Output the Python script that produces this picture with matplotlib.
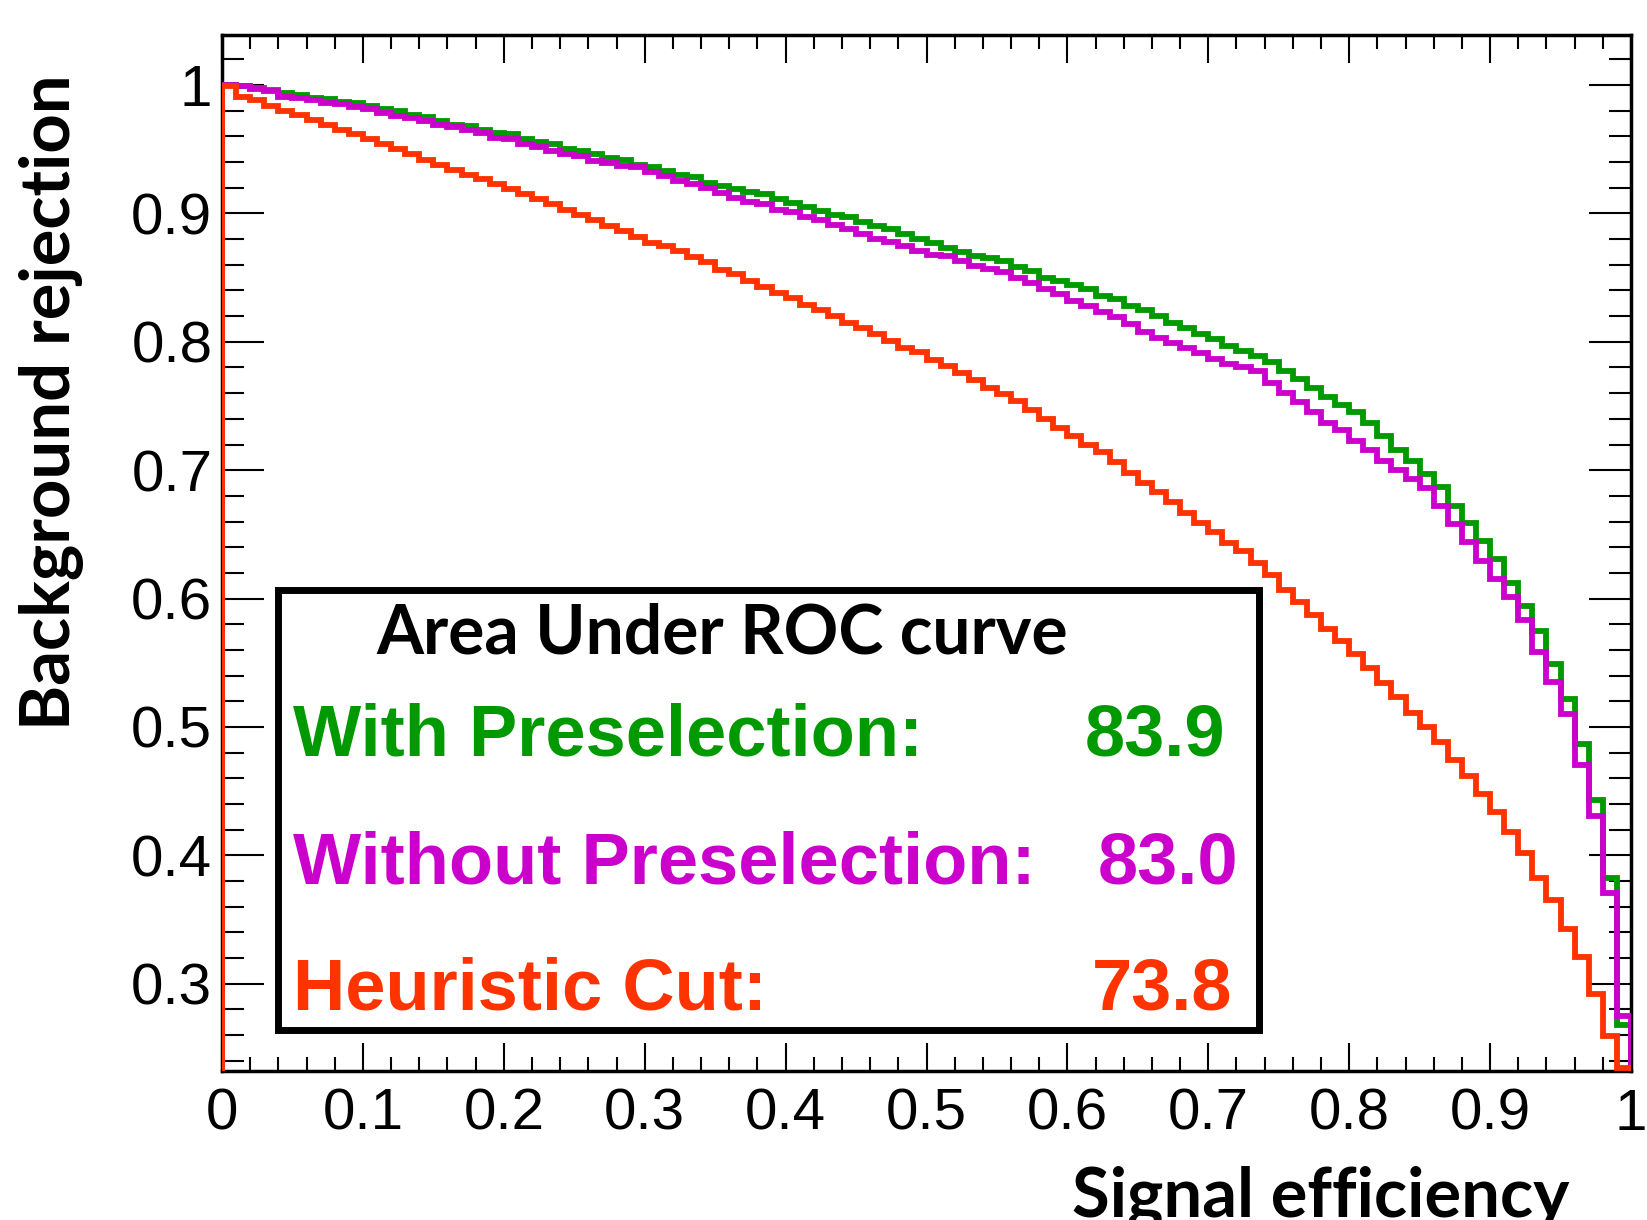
import numpy as np
import matplotlib.pyplot as plt
from matplotlib.patches import Rectangle
from matplotlib.ticker import MultipleLocator, FuncFormatter

plt.rcParams['font.family'] = ['Liberation Sans', 'DejaVu Sans']

# ROC curves, background rejection per signal-efficiency bin (100 bins of 0.01)
bin_edges = np.linspace(0.0, 1.0, 101)

rej_with_presel = [
    1.000, 0.999, 0.998, 0.996, 0.994, 0.992, 0.990, 0.989, 0.987, 0.986,
    0.984, 0.981, 0.980, 0.977, 0.975, 0.972, 0.969, 0.968, 0.965, 0.963,
    0.962, 0.958, 0.956, 0.954, 0.950, 0.949, 0.946, 0.943, 0.942, 0.938,
    0.936, 0.933, 0.930, 0.928, 0.924, 0.921, 0.919, 0.917, 0.915, 0.911,
    0.908, 0.905, 0.902, 0.899, 0.897, 0.893, 0.890, 0.888, 0.884, 0.880,
    0.877, 0.873, 0.870, 0.867, 0.865, 0.863, 0.858, 0.855, 0.850, 0.847,
    0.844, 0.841, 0.836, 0.833, 0.828, 0.825, 0.820, 0.815, 0.811, 0.806,
    0.802, 0.797, 0.793, 0.789, 0.784, 0.777, 0.771, 0.764, 0.757, 0.751,
    0.745, 0.737, 0.727, 0.716, 0.707, 0.697, 0.687, 0.672, 0.659, 0.645,
    0.631, 0.612, 0.594, 0.575, 0.549, 0.522, 0.487, 0.443, 0.382, 0.268,
]

rej_without_presel = [
    1.000, 0.999, 0.997, 0.995, 0.991, 0.990, 0.988, 0.986, 0.985, 0.983,
    0.981, 0.978, 0.976, 0.974, 0.972, 0.969, 0.967, 0.965, 0.963, 0.959,
    0.958, 0.954, 0.952, 0.949, 0.946, 0.945, 0.941, 0.939, 0.937, 0.936,
    0.932, 0.929, 0.925, 0.923, 0.920, 0.916, 0.912, 0.909, 0.907, 0.903,
    0.901, 0.897, 0.895, 0.891, 0.888, 0.884, 0.880, 0.878, 0.875, 0.871,
    0.868, 0.867, 0.863, 0.859, 0.857, 0.854, 0.850, 0.846, 0.841, 0.837,
    0.832, 0.828, 0.823, 0.819, 0.814, 0.808, 0.803, 0.799, 0.795, 0.791,
    0.787, 0.783, 0.780, 0.777, 0.768, 0.760, 0.753, 0.745, 0.737, 0.731,
    0.723, 0.716, 0.707, 0.700, 0.693, 0.686, 0.672, 0.658, 0.644, 0.629,
    0.615, 0.601, 0.583, 0.558, 0.535, 0.510, 0.470, 0.431, 0.371, 0.275,
]

rej_heuristic = [
    0.999, 0.991, 0.988, 0.984, 0.980, 0.977, 0.973, 0.969, 0.965, 0.962,
    0.958, 0.954, 0.950, 0.946, 0.942, 0.938, 0.934, 0.930, 0.927, 0.923,
    0.919, 0.915, 0.911, 0.907, 0.903, 0.899, 0.895, 0.890, 0.886, 0.882,
    0.877, 0.875, 0.871, 0.866, 0.862, 0.856, 0.853, 0.847, 0.843, 0.838,
    0.834, 0.829, 0.825, 0.820, 0.815, 0.811, 0.806, 0.801, 0.795, 0.792,
    0.786, 0.781, 0.776, 0.770, 0.764, 0.759, 0.754, 0.747, 0.740, 0.733,
    0.727, 0.720, 0.714, 0.706, 0.698, 0.690, 0.683, 0.675, 0.667, 0.659,
    0.652, 0.643, 0.637, 0.628, 0.618, 0.607, 0.597, 0.587, 0.576, 0.567,
    0.557, 0.546, 0.534, 0.523, 0.511, 0.500, 0.488, 0.474, 0.462, 0.448,
    0.434, 0.418, 0.402, 0.382, 0.365, 0.343, 0.321, 0.292, 0.259, 0.234,
]

auc_labels = ['With Preselection:', 'Without Preselection:', 'Heuristic Cut:']
auc_values = [83.9, 83.0, 73.8]

green = '#009900'
magenta = '#cc00cc'
red = '#ff3300'

W, H = 1647, 1220
def fx(px):
    return px / W
def fy(py):
    return 1 - py / H

fig = plt.figure(figsize=(W / 100, H / 100), dpi=100)
ax = fig.add_axes([fx(222), fy(1071), (1631 - 222) / W, (1071 - 35) / H])

# drawing order as in the original: green, magenta, red on top
ax.stairs(rej_with_presel, bin_edges, baseline=0, color=green, lw=4.2, zorder=3)
ax.stairs(rej_without_presel, bin_edges, baseline=0, color=magenta, lw=4.2, zorder=3)
ax.stairs(rej_heuristic, bin_edges, baseline=0, color=red, lw=4.2, zorder=3)

ax.set_xlim(0, 1)
ax.set_ylim(0.232, 1.039)

fmt = FuncFormatter(lambda v, p: '%g' % round(v, 2))
ax.xaxis.set_major_locator(MultipleLocator(0.1))
ax.xaxis.set_minor_locator(MultipleLocator(0.02))
ax.yaxis.set_major_locator(MultipleLocator(0.1))
ax.yaxis.set_minor_locator(MultipleLocator(0.02))
ax.xaxis.set_major_formatter(fmt)
ax.yaxis.set_major_formatter(fmt)

ax.tick_params(which='both', direction='in', top=True, right=True, width=1.5,
               labelsize=42)
ax.tick_params(axis='y', which='major', length=30, pad=7)
ax.tick_params(axis='y', which='minor', length=16)
ax.tick_params(axis='x', which='major', length=20, pad=12)
ax.tick_params(axis='x', which='minor', length=10)
for sp in ax.spines.values():
    sp.set_linewidth(2.5)

# axis titles (Calibri-like bold)
lab_font = ['Lato', 'DejaVu Sans']
fig.text(fx(70), fy(402), 'Background rejection', rotation=90,
         rotation_mode='anchor', ha='center', va='baseline',
         family=lab_font, weight='bold', size=49.5)
fig.text(fx(1321), fy(1217), 'Signal efficiency', ha='center', va='baseline',
         family=lab_font, weight='bold', size=49.5)

# AUC box
box = Rectangle((fx(278), fy(1030)), (1259 - 278) / W, (1030 - 590) / H,
                transform=fig.transFigure, facecolor='white',
                edgecolor='black', lw=5, zorder=5)
fig.add_artist(box)

fig.text(fx(376), fy(653), 'Area Under ROC curve', family=lab_font,
         weight='bold', size=48.8, va='baseline', zorder=6)

rows_y = [755, 883, 1010]
num_right = [1225, 1238, 1232]
cols = [green, magenta, red]
for lab, val, yy, xr, c in zip(auc_labels, auc_values, rows_y, num_right, cols):
    fig.text(fx(293), fy(yy), lab, color=c, weight='bold', size=52,
             va='baseline', zorder=6)
    fig.text(fx(xr), fy(yy), '%.1f' % val, color=c, weight='bold', size=52,
             ha='right', va='baseline', zorder=6)

fig.savefig('out.png', dpi=100)
